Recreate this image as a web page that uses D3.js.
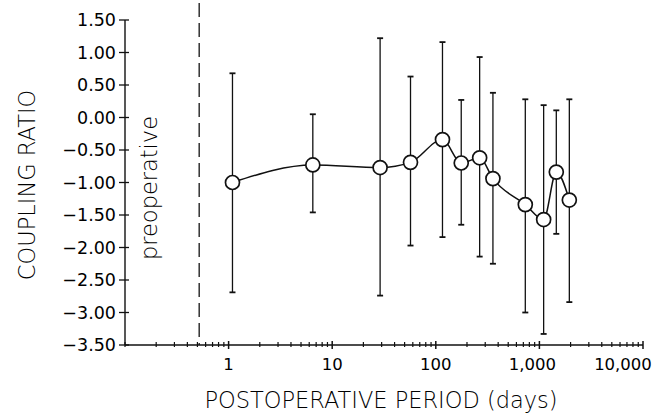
<!DOCTYPE html>
<html>
<head>
<meta charset="utf-8">
<script src="https://cdn.jsdelivr.net/npm/d3@7"></script>
<style>
  html, body { margin: 0; padding: 0; background: #fff; }
  svg text { font-family: "DejaVu Sans", sans-serif; fill: #000; }
</style>
</head>
<body>
<div id="chart"></div>
<script>
// Coupling ratio vs postoperative period (log scale), mean with range bars

// data
const days  = [1.09, 6.5, 29, 57, 116, 176, 265, 356, 731, 1099, 1456, 1945];
const mean  = [-1.00, -0.73, -0.77, -0.69, -0.34, -0.70, -0.62, -0.94, -1.34, -1.57, -0.84, -1.27];
const upper = [0.68, 0.05, 1.22, 0.63, 1.16, 0.27, 0.93, 0.38, 0.28, 0.19, 0.11, 0.28];
const lower = [-2.69, -1.46, -2.74, -1.97, -1.84, -1.65, -2.14, -2.25, -3.00, -3.33, -1.79, -2.84];

const yTicks = [1.5, 1.0, 0.5, 0.0, -0.5, -1.0, -1.5, -2.0, -2.5, -3.0, -3.5];
const xLabelTicks = [1, 10, 100, 1000, 10000];
const preopDay = 0.52;   // dashed marker separating preoperative baseline

const width = 663;
const height = 413;

const svg = d3.select('#chart')
  .append('svg')
  .attr('width', width)
  .attr('height', height);

const x = d3.scaleLog().domain([0.1, 10000]).range([125, 643]);
const y = d3.scaleLinear().domain([-3.5, 1.5]).range([345, 20]);

const ink = '#111';

// y axis
svg.append('line')
  .attr('x1', x(0.1)).attr('x2', x(0.1))
  .attr('y1', y(1.5)).attr('y2', y(-3.5))
  .attr('stroke', ink).attr('stroke-width', 1.4);

const yg = svg.append('g');
yg.selectAll('line')
  .data(yTicks)
  .enter().append('line')
  .attr('x1', x(0.1) - 6).attr('x2', x(0.1) + 4)
  .attr('y1', d => y(d)).attr('y2', d => y(d))
  .attr('stroke', ink).attr('stroke-width', 1.3);
yg.selectAll('text')
  .data(yTicks)
  .enter().append('text')
  .attr('x', x(0.1) - 9)
  .attr('y', d => y(d))
  .attr('dy', '0.36em')
  .attr('text-anchor', 'end')
  .style('font-size', '17.5px')
  .text(d => d3.format('.2f')(d));

// x axis
svg.append('line')
  .attr('x1', x(0.1)).attr('x2', x(10000))
  .attr('y1', y(-3.5)).attr('y2', y(-3.5))
  .attr('stroke', ink).attr('stroke-width', 1.4);

const allTicks = x.ticks();
svg.append('g').selectAll('line')
  .data(allTicks)
  .enter().append('line')
  .attr('x1', d => x(d)).attr('x2', d => x(d))
  .attr('y1', d => y(-3.5) - (xLabelTicks.includes(d) ? 4 : 3))
  .attr('y2', d => y(-3.5) + (xLabelTicks.includes(d) ? 4 : 2))
  .attr('stroke', ink).attr('stroke-width', d => xLabelTicks.includes(d) ? 1.5 : 1.2);

// the comma labels sit a little left of their ticks in the original
const labelNudge = { 1000: -7, 10000: -20 };
svg.append('g').selectAll('text')
  .data(xLabelTicks)
  .enter().append('text')
  .attr('x', d => x(d) + (labelNudge[d] || 0))
  .attr('y', 370)
  .attr('text-anchor', 'middle')
  .style('font-size', '16.5px')
  .text(d => d3.format(',')(d));

// axis titles
svg.append('text')
  .attr('transform', `translate(35,${185}) rotate(-90)`)
  .attr('text-anchor', 'middle')
  .style('font-size', '22.5px')
  .style('font-weight', 300)
  .text('COUPLING RATIO');

svg.append('text')
  .attr('x', 381)
  .attr('y', 408)
  .attr('text-anchor', 'middle')
  .style('font-size', '22.5px')
  .style('font-weight', 300)
  .text('POSTOPERATIVE PERIOD (days)');

// preoperative marker
svg.append('line')
  .attr('x1', x(preopDay)).attr('x2', x(preopDay))
  .attr('y1', 3).attr('y2', y(-3.5))
  .attr('stroke', ink).attr('stroke-width', 1.3)
  .attr('stroke-dasharray', '14,6');

svg.append('text')
  .attr('transform', `translate(157,${188}) rotate(-90)`)
  .attr('text-anchor', 'middle')
  .style('font-size', '22.5px')
  .style('font-weight', 300)
  .text('preoperative');

const points = days.map((d, i) => ({ day: d, mean: mean[i], hi: upper[i], lo: lower[i] }));

// range bars
const bars = svg.append('g');
bars.selectAll('line.bar')
  .data(points)
  .enter().append('line')
  .attr('class', 'bar')
  .attr('x1', d => x(d.day)).attr('x2', d => x(d.day))
  .attr('y1', d => y(d.hi)).attr('y2', d => y(d.lo))
  .attr('stroke', ink).attr('stroke-width', 1.3);
['hi', 'lo'].forEach(k => {
  bars.selectAll('line.cap-' + k)
    .data(points)
    .enter().append('line')
    .attr('class', 'cap-' + k)
    .attr('x1', d => x(d.day) - 3).attr('x2', d => x(d.day) + 3)
    .attr('y1', d => y(d[k])).attr('y2', d => y(d[k]))
    .attr('stroke', ink).attr('stroke-width', 1.8);
});

// connecting line
const line = d3.line()
  .x(d => x(d.day))
  .y(d => y(d.mean))
  .curve(d3.curveMonotoneX);

svg.append('path')
  .datum(points)
  .attr('d', line)
  .attr('fill', 'none')
  .attr('stroke', ink)
  .attr('stroke-width', 1.5);

// markers
svg.append('g').selectAll('circle')
  .data(points)
  .enter().append('circle')
  .attr('cx', d => x(d.day))
  .attr('cy', d => y(d.mean))
  .attr('r', 7)
  .attr('fill', '#fff')
  .attr('stroke', ink)
  .attr('stroke-width', 1.7);
</script>
</body>
</html>
